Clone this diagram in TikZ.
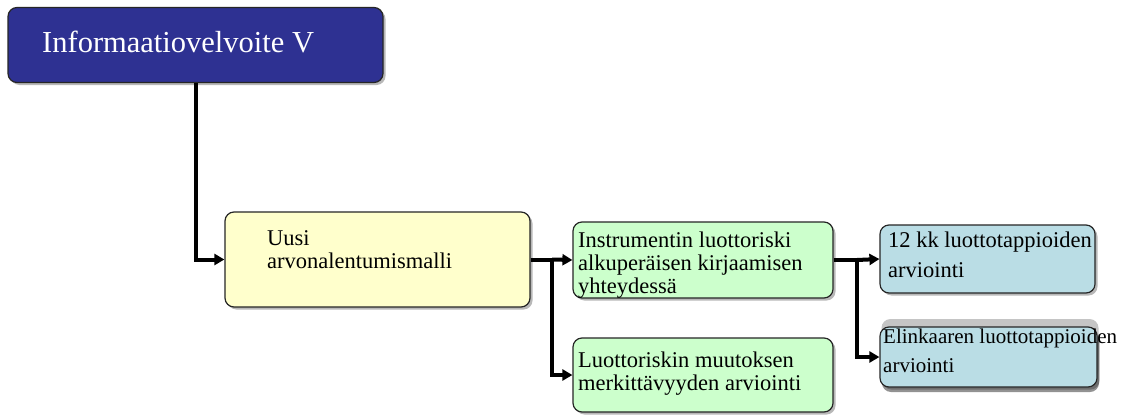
\documentclass[tikz,border=0pt]{standalone}
\usepackage{fontspec}
\setmainfont{Liberation Serif}
\usetikzlibrary{shadows,arrows.meta}
\definecolor{titleblue}{RGB}{46,49,146}
\definecolor{paleyellow}{RGB}{255,255,204}
\definecolor{palegreen}{RGB}{204,255,204}
\definecolor{paleblue}{RGB}{186,221,229}
\tikzset{
  box/.style={draw=black!85, line width=1.2pt, rounded corners=9pt, inner sep=0pt,
    drop shadow={shadow xshift=2.5pt, shadow yshift=-2.5pt, fill=black!55}},
  label/.style={anchor=base west, inner sep=0pt, align=left, font=\fontsize{22.5}{23}\selectfont},
  link/.style={line width=4pt, -{Triangle[length=10pt,width=11pt]}},
  plain/.style={line width=4pt}
}
\begin{document}
\begin{tikzpicture}[x=1pt, y=-1pt]
\useasboundingbox (0,0) rectangle (1123,415);
\fill[white] (0,0) rectangle (1123,415);

% boxes
\node[box, fill=titleblue, minimum width=375pt, minimum height=75pt] (title) at (195.5,45) {};
\node[box, fill=paleyellow, minimum width=305pt, minimum height=95pt] (model) at (377.5,259.5) {};
\node[box, fill=palegreen, minimum width=260pt, minimum height=76pt] (initial) at (703,260) {};
\node[box, fill=palegreen, minimum width=260pt, minimum height=74pt] (change) at (703,375) {};
\node[box, fill=paleblue, minimum width=215pt, minimum height=68pt] (twelve) at (987.5,259) {};
\node[box, fill=paleblue, minimum width=217pt, minimum height=60pt,
      drop shadow={shadow xshift=1.5pt, shadow yshift=8pt, fill=black!45},
      drop shadow={shadow xshift=2pt, shadow yshift=-5pt, fill=black!85}] (lifetime) at (988.5,357) {};

% texts (anchored at the baseline of the last line)
\node[anchor=base west, inner sep=0pt, text=white, font=\fontsize{30.5}{34}\selectfont] (ttext) at (42,52) {Informaatiovelvoite V};
\node[label] (mtext) at (267,268) {Uusi\\arvonalentumismalli};
\node[label] (itext) at (578,293) {Instrumentin luottoriski\\alkuperäisen kirjaamisen\\yhteydessä};
\node[label] (ctext) at (578,390) {Luottoriskin muutoksen\\merkittävyyden arviointi};
\node[label, font=\fontsize{22.5}{30}\selectfont] (ttext2) at (888,277) {12 kk luottotappioiden\\arviointi};
\node[label, font=\fontsize{21}{29}\selectfont] (ltext) at (883,372) {Elinkaaren luottotappioiden\\arviointi};

% connectors
\coordinate (j1) at (552,259.5);
\coordinate (j2) at (857,260);
\draw[link] (title.south) |- (model.west);
\draw[plain] (model.east) -- (j1);
\draw[link] (j1) -- (initial.west);
\draw[link] (j1) |- (change.west);
\draw[plain] (initial.east) -- (j2);
\draw[link] (j2) -- (twelve.west);
\draw[link] (j2) |- (lifetime.west);
\end{tikzpicture}
\end{document}
